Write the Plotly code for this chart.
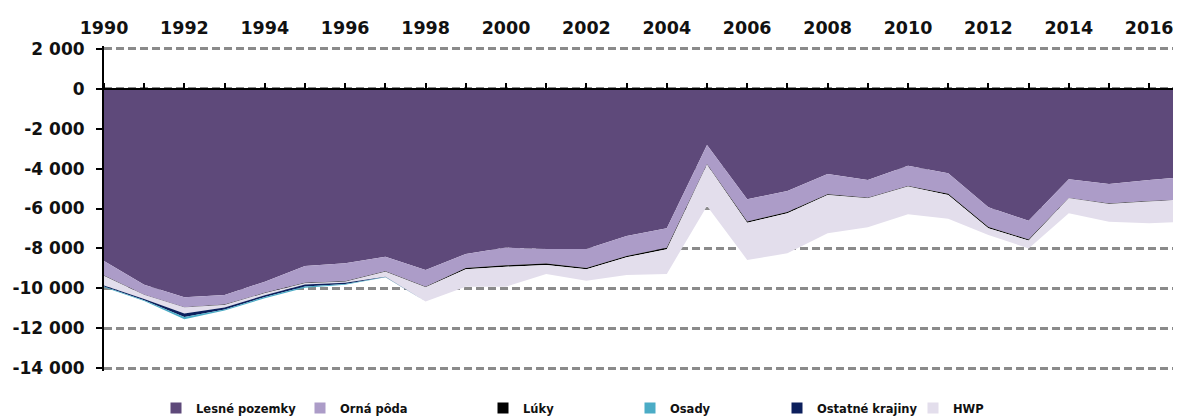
import plotly.graph_objects as go

# ---------------- data (t CO2 eq.) ----------------
years = [1990, 1991, 1992, 1993, 1994, 1995, 1996, 1997, 1998, 1999,
         2000, 2001, 2002, 2003, 2004, 2005, 2006, 2007, 2008, 2009,
         2010, 2011, 2012, 2013, 2014, 2015, 2016, 2017]

lesne = [-8630, -9830, -10450, -10340, -9670, -8880, -8750, -8420, -9080, -8280,
         -7960, -8030, -8030, -7380, -6990, -2810, -5540, -5120, -4270, -4570,
         -3850, -4230, -5940, -6610, -4530, -4770, -4570, -4400]

orna = [-730, -490, -500, -480, -560, -850, -900, -730, -850, -700,
        -890, -730, -950, -1000, -980, -970, -1110, -1060, -1020, -890,
        -1020, -1030, -990, -940, -940, -980, -1060, -1150]

luky = [-20, -20, -20, -20, -20, -20, -20, -20, -20, -70,
        -70, -70, -70, -70, -70, -30, -60, -60, -30, -30,
        -30, -60, -60, -60, -20, -20, -20, -20]

osady = [-40, -40, -110, -60, -60, -70, -40, -10, 0, 0,
         0, 0, 0, 0, 0, 0, 0, 0, 0, 0,
         0, 0, 0, 0, 0, 0, 0, 0]

ostatne = [-50, -60, -170, -100, -90, -100, -60, -20, 0, 0,
           0, 0, 0, 0, 0, 0, 0, 0, 0, 0,
           0, 0, 0, 0, 0, 0, 0, 0]

hwp = [-480, -200, -300, -120, -100, -60, -60, -250, -720, -870,
       -1000, -450, -570, -880, -1240, -2060, -1870, -2010, -1920, -1450,
       -1390, -1200, -340, -390, -750, -890, -1090, -1090]

x_tick_years = [1990, 1992, 1994, 1996, 1998, 2000, 2002, 2004,
                2006, 2008, 2010, 2012, 2014, 2016]
x_tick_labels = ["1990", "1992", "1994", "1996", "1998", "2000", "2002", "2004",
                 "2006", "2008", "2010", "2012", "2014", "2016"]
y_tick_vals = [2000, 0, -2000, -4000, -6000, -8000, -10000, -12000, -14000]
y_tick_labels = ["2 000", "0", "-2 000", "-4 000", "-6 000", "-8 000",
                 "-10 000", "-12 000", "-14 000"]

# ---------------- styling ----------------
names = {
    "lesne": "Lesné pozemky",
    "orna": "Orná pôda",
    "luky": "Lúky",
    "osady": "Osady",
    "ostatne": "Ostatné krajiny",
    "hwp": "HWP",
}
colors = {
    "lesne": "#5E497A",
    "orna": "#AC9CC8",
    "luky": "#000000",
    "osady": "#4BACC6",
    "ostatne": "#0C1F5C",
    "hwp": "#E3DEEC",
}
series = {"lesne": lesne, "orna": orna, "luky": luky,
          "osady": osady, "ostatne": ostatne, "hwp": hwp}

FONT = "DejaVu Sans"

fig = go.Figure()

# stacked areas (drawing order chosen to match the picture)
for key in ["lesne", "orna", "luky", "hwp", "ostatne", "osady"]:
    fig.add_trace(go.Scatter(
        x=years, y=series[key], name=names[key],
        mode="lines", stackgroup="one",
        line=dict(width=0, color=colors[key]),
        fillcolor=colors[key],
        showlegend=False,
    ))

# dummy trace so the zero-line axis (x2) is drawn
fig.add_trace(go.Scatter(x=[years[0]], y=[None], xaxis="x2", yaxis="y",
                         showlegend=False, hoverinfo="skip", mode="lines"))

# page body has an 8px margin: figure is sized to fit the window
FIG_W, FIG_H = 1173, 412
PLOT_L, PLOT_W = 96, 1077          # in figure coordinates
PLOT_T, PLOT_H = 38, 325

# legend entries (square swatches), each in its own legend for placement
legend_order = ["lesne", "orna", "luky", "osady", "ostatne", "hwp"]
legend_px = [148, 292, 475, 622, 769, 905]   # figure coords of legend boxes
legend_layouts = {}
for i, (key, px) in enumerate(zip(legend_order, legend_px)):
    lname = "legend" if i == 0 else f"legend{i + 1}"
    fig.add_trace(go.Scatter(
        x=[None], y=[None], mode="markers", name=names[key],
        marker=dict(symbol="square", size=11, color=colors[key]),
        legend=lname, showlegend=True,
    ))
    legend_layouts[lname] = dict(
        x=(px - PLOT_L) / PLOT_W, xanchor="left",
        y=-0.114, yanchor="middle",
        orientation="h",
        font=dict(family=FONT, size=11.5, color="#111111", weight="bold"),
        bgcolor="rgba(0,0,0,0)", itemwidth=30,
    )

Y_MIN, Y_MAX = -14150, 2150
X_MAX = 1990 + PLOT_W / 40.2

fig.update_layout(
    width=FIG_W, height=FIG_H,
    margin=dict(l=PLOT_L, r=FIG_W - PLOT_L - PLOT_W, t=PLOT_T,
                b=FIG_H - PLOT_T - PLOT_H, autoexpand=False),
    paper_bgcolor="white", plot_bgcolor="white",
    showlegend=True,
    xaxis=dict(
        range=[1990, X_MAX], side="top", automargin=False,
        tickmode="array", tickvals=x_tick_years, ticktext=x_tick_labels,
        showgrid=False, zeroline=False, showline=False, ticks="",
        tickfont=dict(family=FONT, size=17.5, color="#111111", weight="bold"),
        ticklabelstandoff=8,
    ),
    xaxis2=dict(
        overlaying="x", range=[1990, X_MAX], automargin=False,
        anchor="free", position=(0 - Y_MIN) / (Y_MAX - Y_MIN), side="top",
        showline=True, linecolor="black", linewidth=2,
        ticks="outside", ticklen=5, tickwidth=2, tickcolor="black",
        tick0=1990, dtick=1, showticklabels=False,
        showgrid=False, zeroline=False, layer="above traces",
    ),
    yaxis=dict(
        range=[Y_MIN, Y_MAX], automargin=False,
        tickmode="array", tickvals=y_tick_vals, ticktext=y_tick_labels,
        showgrid=True, gridcolor="#8A8A8A", gridwidth=2.5, griddash="8px,4px",
        zeroline=False,
        showline=True, linecolor="black", linewidth=2,
        ticks="outside", ticklen=6, tickwidth=2, tickcolor="black",
        layer="above traces",
        tickfont=dict(family=FONT, size=17, color="#111111", weight="bold"),
        ticklabelstandoff=8,
    ),
    **legend_layouts,
)

fig.write_html("out.html")
